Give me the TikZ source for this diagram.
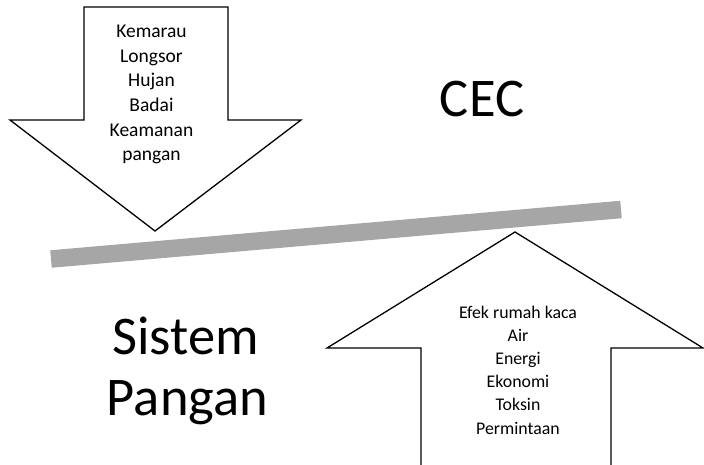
\documentclass[tikz,border=0pt]{standalone}
\usepackage{fontspec}
\setmainfont{Carlito}
\definecolor{bargray}{HTML}{A6A6A6}
\tikzset{
  arrowshape/.style={draw=black, line width=1.3pt, fill=white, line join=miter},
  toplist/.style={anchor=base, inner sep=0pt, font=\fontsize{19.5}{24}\selectfont},
  botlist/.style={anchor=base, inner sep=0pt, font=\fontsize{17.8}{22}\selectfont},
  bigtext/.style={anchor=base, inner sep=0pt, font=\fontsize{54.5}{60}\selectfont},
}
\begin{document}
\begin{tikzpicture}[x=1pt,y=-1pt]
\useasboundingbox (0,0) rectangle (704,464);
\clip (0,0) rectangle (704,464);
% down arrow
\draw[arrowshape] (84,7) -- (228,7) -- (228,120) -- (301,120) -- (155,231) -- (10,120) -- (84,120) -- cycle;
% up arrow
\draw[arrowshape] (421,470) -- (421,348) -- (327,348) -- (515,232) -- (703,348) -- (611,348) -- (611,470);
% bar
\coordinate (barL) at (51,259);
\coordinate (barR) at (621,209.5);
\draw[bargray, line width=17.5pt, line cap=butt] (barL) -- (barR);
% texts
\foreach \t [count=\i] in {Kemarau,Longsor,Hujan,Badai,Keamanan,pangan}
  \node[toplist] (top\i) at (151.5,{37.7+24.6*(\i-1)}) {\t};
\foreach \t [count=\i] in {Efek rumah kaca,Air,Energi,Ekonomi,Toksin,Permintaan}
  \node[botlist] (bot\i) at (518,{318.3+23.15*(\i-1)}) {\t};
\node[bigtext] (cec) at (482,116.7) {CEC};
\node[bigtext] (sis) at (185.5,354) {Sistem};
\node[bigtext] (pan) at (187.5,415) {Pangan};
\end{tikzpicture}
\end{document}
